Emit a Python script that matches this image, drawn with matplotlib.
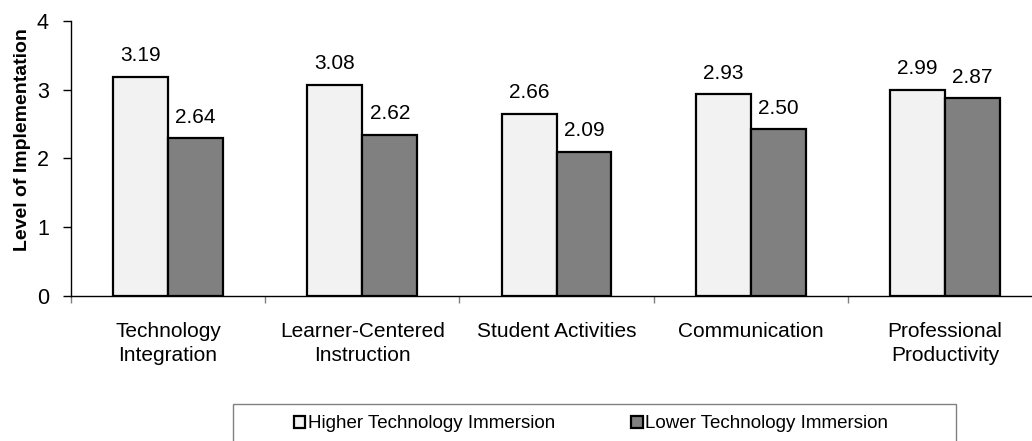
import matplotlib
matplotlib.use("Agg")
import matplotlib.pyplot as plt
from matplotlib.patches import Rectangle, Patch
import numpy as np

plt.rcParams['font.family'] = ['Liberation Sans', 'DejaVu Sans']

categories = ["Technology\nIntegration", "Learner-Centered\nInstruction",
              "Student Activities", "Communication", "Professional\nProductivity"]
higher_values = [3.18, 3.07, 2.65, 2.93, 2.99]
higher_labels = ["3.19", "3.08", "2.66", "2.93", "2.99"]
lower_values = [2.29, 2.34, 2.09, 2.42, 2.87]
lower_labels = ["2.64", "2.62", "2.09", "2.50", "2.87"]
series_names = ["Higher Technology Immersion", "Lower Technology Immersion"]
yticks = [0, 1, 2, 3, 4]

W, H = 1032, 441
fig = plt.figure(figsize=(W / 100, H / 100), dpi=100)
ax = fig.add_axes([71 / W, 145 / H, (1042 - 71) / W, (296 - 20.7) / H])

light = "#F2F2F2"
dark = "#808080"
bw = 0.283
x = np.arange(len(categories)) + 0.5
ax.bar(x - bw / 2, higher_values, bw, color=light, edgecolor="black", linewidth=1.6, zorder=2)
ax.bar(x + bw / 2, lower_values, bw, color=dark, edgecolor="black", linewidth=1.6, zorder=2)

fs = 15
for xi, h, lab in zip(x - bw / 2, higher_values, higher_labels):
    ax.text(xi, h + 0.23, lab, ha="center", va="baseline", fontsize=fs)
for xi, h, lab in zip(x + bw / 2, lower_values, lower_labels):
    ax.text(xi, h + 0.23, lab, ha="center", va="baseline", fontsize=fs)

ax.set_xlim(0, len(categories))
ax.set_ylim(0, 4)
ax.set_yticks(yticks)
ax.set_yticklabels([str(t) for t in yticks], fontsize=15.5)
ax.tick_params(axis="y", direction="out", length=6, width=1, color="black", pad=10)

ax.set_xticks(np.arange(len(categories) + 1))
ax.set_xticklabels([])
ax.tick_params(axis="x", which="major", direction="out", length=5, width=1, color="#808080")
ax.set_xticks(x, minor=True)
ax.set_xticklabels(categories, minor=True, fontsize=15, linespacing=1.28)
ax.tick_params(axis="x", which="minor", length=0, pad=19)

for s in ["top", "right"]:
    ax.spines[s].set_visible(False)
ax.spines["left"].set_linewidth(1)
ax.spines["bottom"].set_linewidth(1)

ax.set_ylabel("Level of Implementation", fontsize=14, fontweight="bold")
ax.yaxis.set_label_coords(-0.041, 0.567)

# legend box
fig.patches.append(Rectangle((232.5 / W, -30 / H), (956 - 232.5) / W, (441 - 404 + 30) / H,
                             transform=fig.transFigure, facecolor="white",
                             edgecolor="#808080", linewidth=1, zorder=0))
handles = [Patch(facecolor=light, edgecolor="black", linewidth=1.6),
           Patch(facecolor=dark, edgecolor="black", linewidth=1.6)]
fig.legend(handles, series_names, loc="center", bbox_to_anchor=((232.5 + 956) / 2 / W - 3 / W, (441 - 424) / H),
           ncol=2, frameon=False, fontsize=13.5, handlelength=0.6, handleheight=0.6,
           handletextpad=0.15, columnspacing=4.05)

fig.savefig("out.png", dpi=100)
